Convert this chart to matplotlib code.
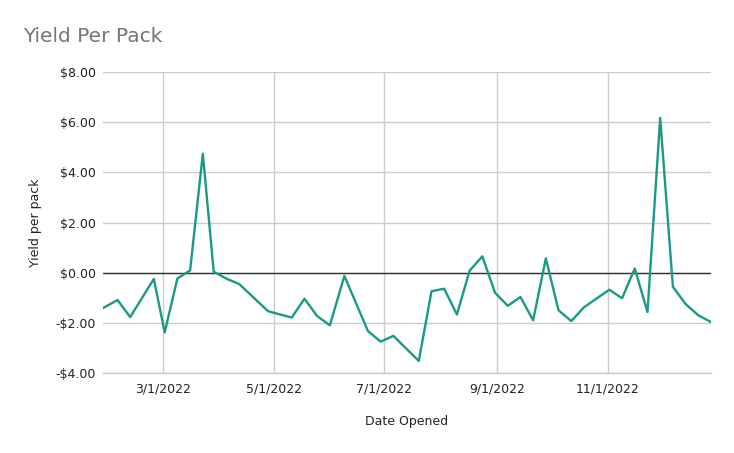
import matplotlib

matplotlib.use("Agg")
import matplotlib.dates as mdates
import matplotlib.pyplot as plt
import pandas as pd
from matplotlib.ticker import FuncFormatter

# ── Data ──────────────────────────────────────────────────────────────
dates = [
    "2022-01-27", "2022-02-04", "2022-02-11", "2022-02-24", "2022-03-02",
    "2022-03-09", "2022-03-16", "2022-03-23", "2022-03-29", "2022-04-05",
    "2022-04-12", "2022-04-28", "2022-05-11", "2022-05-18", "2022-05-25",
    "2022-06-01", "2022-06-09", "2022-06-22", "2022-06-29", "2022-07-06",
    "2022-07-20", "2022-07-27", "2022-08-03", "2022-08-10", "2022-08-17",
    "2022-08-24", "2022-08-31", "2022-09-07", "2022-09-14", "2022-09-21",
    "2022-09-28", "2022-10-05", "2022-10-12", "2022-10-19", "2022-11-02",
    "2022-11-09", "2022-11-16", "2022-11-23", "2022-11-30", "2022-12-07",
    "2022-12-14", "2022-12-21", "2022-12-28",
]
yield_per_pack = [
    -1.41, -1.09, -1.77, -0.25, -2.38,
    -0.23, 0.09, 4.74, 0.04, -0.24,
    -0.45, -1.54, -1.79, -1.04, -1.73,
    -2.10, -0.13, -2.33, -2.75, -2.52,
    -3.52, -0.74, -0.64, -1.67, 0.08,
    0.65, -0.80, -1.32, -0.97, -1.90,
    0.57, -1.50, -1.93, -1.38, -0.68,
    -1.02, 0.17, -1.57, 6.17, -0.56,
    -1.25, -1.70, -1.97,
]
x_ticks = ["2022-03-01", "2022-05-01", "2022-07-01", "2022-09-01", "2022-11-01"]
y_ticks = [-4, -2, 0, 2, 4, 6, 8]

x = pd.to_datetime(dates)

# ── Plot ──────────────────────────────────────────────────────────────
fig = plt.figure(figsize=(7.34, 4.53), dpi=100)
ax = fig.add_axes([103 / 734, 1 - 373 / 453, 608 / 734, 301 / 453])

ax.plot(x, yield_per_pack, color="#1a9a86", linewidth=1.7, zorder=3)
ax.axhline(0, color="#333333", linewidth=1.0, zorder=2)

ax.set_xlim(x[0], x[-1])
ax.set_ylim(-4, 8)
ax.set_yticks(y_ticks)
ax.set_xticks(pd.to_datetime(x_ticks))
ax.xaxis.set_major_formatter(
    FuncFormatter(lambda v, _: f"{mdates.num2date(v).month}/1/2022")
)
ax.yaxis.set_major_formatter(
    FuncFormatter(lambda v, _: f"-${abs(v):.2f}" if v < 0 else f"${v:.2f}")
)

ax.grid(True, color="#cccccc", linewidth=1.0, zorder=0)
ax.tick_params(length=0, labelsize=9, colors="#222222")
ax.tick_params(axis="y", pad=5)
ax.tick_params(axis="x", pad=7)
for side in ["top", "right", "left"]:
    ax.spines[side].set_visible(False)
ax.spines["bottom"].set_color("#cccccc")
ax.spines["bottom"].set_linewidth(1.0)

ax.set_xlabel("Date Opened", fontsize=9, color="#222222", labelpad=14)
ax.set_ylabel("Yield per pack", fontsize=9, color="#222222", labelpad=10)
fig.text(23 / 734, 1 - 37 / 453, "Yield Per Pack", fontsize=14.5,
         color="#757575", va="center", ha="left")

fig.savefig("out.png", dpi=100)
plt.close(fig)
